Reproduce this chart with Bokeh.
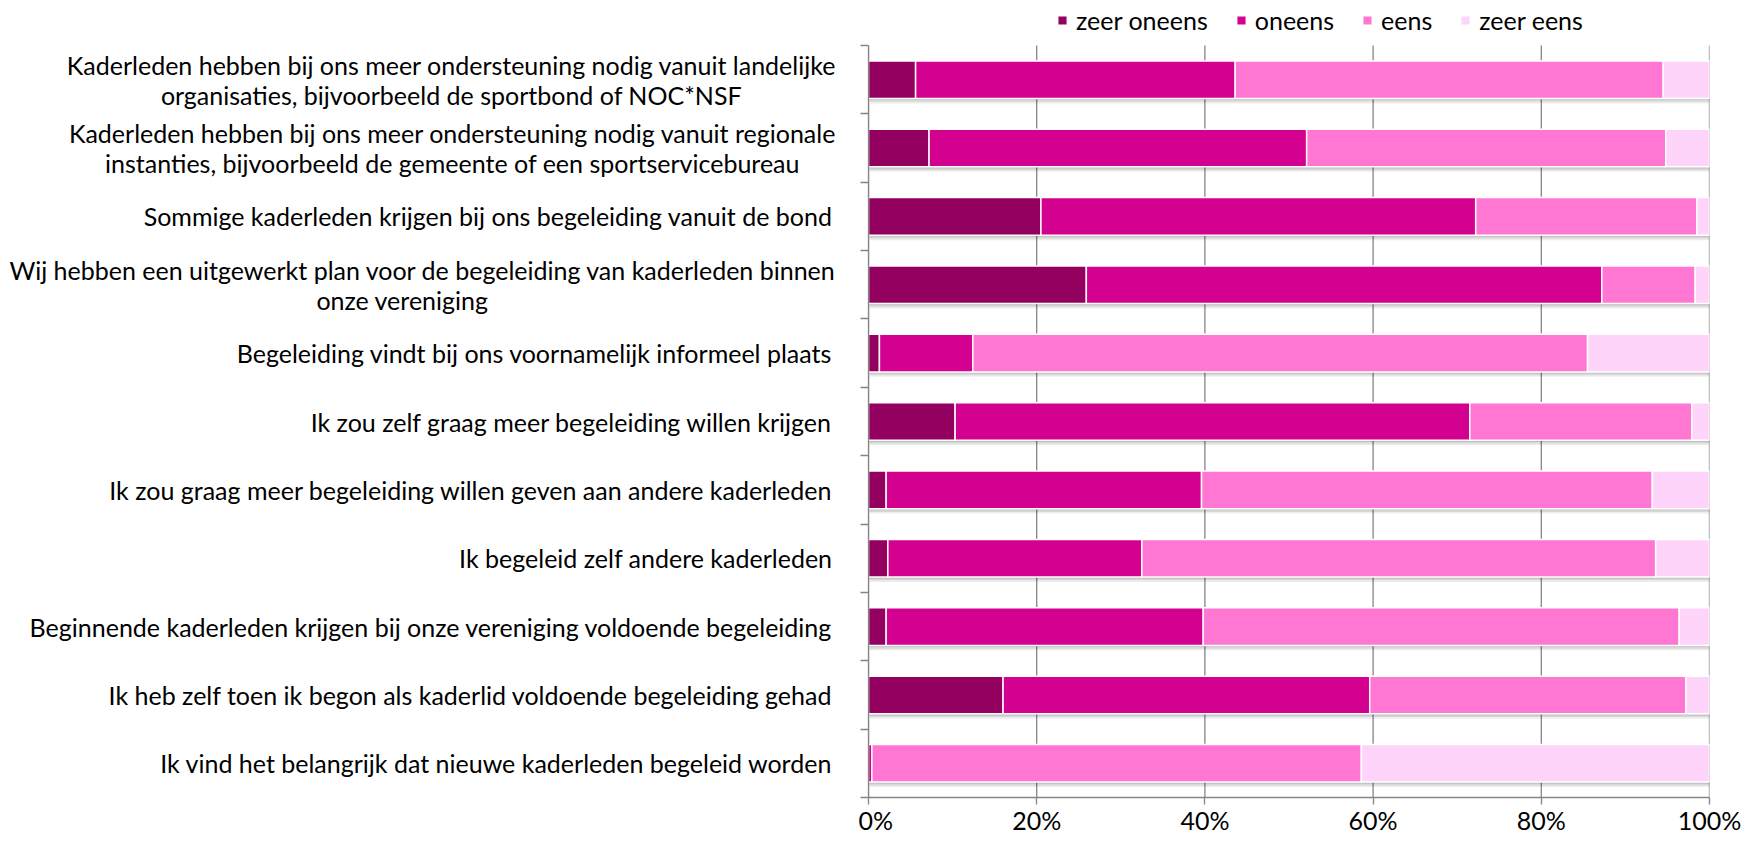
import numpy as np
from bokeh.plotting import figure
from bokeh.layouts import row
from bokeh.models import Range1d, FixedTicker, Legend, LegendItem, ColumnDataSource
from bokeh.core.properties import value
from bokeh.embed import file_html
from bokeh.resources import INLINE

# ---------------- data (top to bottom) ----------------
statements = [
    "Kaderleden hebben bij ons meer ondersteuning nodig vanuit landelijke\norganisaties, bijvoorbeeld de sportbond of NOC*NSF",
    "Kaderleden hebben bij ons meer ondersteuning nodig vanuit regionale\ninstanties, bijvoorbeeld de gemeente of een sportservicebureau",
    "Sommige kaderleden krijgen bij ons begeleiding vanuit de bond",
    "Wij hebben een uitgewerkt plan voor de begeleiding van kaderleden binnen\nonze vereniging",
    "Begeleiding vindt bij ons voornamelijk informeel plaats",
    "Ik zou zelf graag meer begeleiding willen krijgen",
    "Ik zou graag meer begeleiding willen geven aan andere kaderleden",
    "Ik begeleid zelf andere kaderleden",
    "Beginnende kaderleden krijgen bij onze vereniging voldoende begeleiding",
    "Ik heb zelf toen ik begon als kaderlid voldoende begeleiding gehad",
    "Ik vind het belangrijk dat nieuwe kaderleden begeleid worden",
]
zeer_oneens = [5.6, 7.2, 20.5, 25.9, 1.3, 10.3, 2.1, 2.3, 2.1, 16.0, 0.0]
oneens      = [38.0, 44.9, 51.7, 61.3, 11.1, 61.2, 37.5, 30.2, 37.7, 43.6, 0.4]
eens        = [50.9, 42.7, 26.3, 11.1, 73.1, 26.4, 53.6, 61.1, 56.6, 37.6, 58.2]
zeer_eens   = [5.5, 5.2, 1.5, 1.7, 14.5, 2.1, 6.8, 6.4, 3.6, 2.8, 41.4]
series_names = ["zeer oneens", "oneens", "eens", "zeer eens"]
series_colors = ["#94005F", "#D40090", "#FF77D3", "#FFD4FB"]
x_ticks = [0, 20, 40, 60, 80, 100]
x_tick_labels = ["0%", "20%", "40%", "60%", "80%", "100%"]

FONT = "Lato"
FS = "25px"
H = 844
BOTTOM = 47
LABEL_W = 858
TOP_GAP = 45  # space above the bars area, kept inside the frame for the legend
GRID = "#858585"

n = len(statements)
ys = np.array([n - 1 - i + 0.5 for i in range(n)])
BAR_H = 0.55
frame_h = H - BOTTOM
y_top = n * frame_h / (frame_h - TOP_GAP)

# ---------------- chart ----------------
p = figure(width=1742 - LABEL_W, height=H, output_backend="svg", toolbar_location=None,
           x_range=Range1d(0, 100), y_range=Range1d(0, y_top),
           min_border_left=10, min_border_right=33, min_border_top=0, min_border_bottom=BOTTOM)
p.outline_line_color = None
p.grid.grid_line_color = None

# vertical gridlines limited to the bars area
p.segment(x0=x_ticks, y0=[0] * len(x_ticks), x1=x_ticks, y1=[n] * len(x_ticks),
          line_color=GRID, line_width=1.3)

# shadows
for k, a in [(3, 0.07), (2, 0.09), (1, 0.11)]:
    p.hbar(y=ys - 0.024 * k, height=BAR_H, left=0.05 * k, right=100 + 0.12 * k,
           fill_color="black", fill_alpha=a, line_color=None)

data = [np.array(zeer_oneens), np.array(oneens), np.array(eens), np.array(zeer_eens)]
left = np.zeros(n)
items = []
for name, vals, col in zip(series_names, data, series_colors):
    r = p.hbar(y=ys, height=BAR_H, left=left, right=left + vals,
               fill_color=col, line_color="white", line_width=1.5)
    items.append(LegendItem(label=name, renderers=[r]))
    left = left + vals

p.xaxis.ticker = FixedTicker(ticks=x_ticks)
p.xaxis.major_label_overrides = {t: l for t, l in zip(x_ticks, x_tick_labels)}
p.xaxis.major_label_text_font = FONT
p.xaxis.major_label_text_font_size = FS
p.xaxis.major_label_text_color = "black"
p.xaxis.major_label_standoff = 0
p.xaxis.major_tick_out = 7
p.xaxis.major_tick_in = 0
p.xaxis.minor_tick_line_color = None
p.xaxis.axis_line_color = GRID
p.xaxis.major_tick_line_color = GRID
p.xaxis.axis_line_width = 1.3
p.xaxis.major_tick_line_width = 1.3

p.yaxis.ticker = FixedTicker(ticks=list(range(n + 1)))
p.yaxis.bounds = (0, n)
p.yaxis.major_label_overrides = {i: "" for i in range(n + 1)}
p.yaxis.major_label_standoff = 0
p.yaxis.major_tick_out = 8
p.yaxis.major_tick_in = 0
p.yaxis.minor_tick_line_color = None
p.yaxis.axis_line_color = GRID
p.yaxis.major_tick_line_color = GRID
p.yaxis.axis_line_width = 1.3
p.yaxis.major_tick_line_width = 1.3

legend = Legend(items=items, orientation="horizontal", location=(188, frame_h - 35),
                border_line_color=None, background_fill_alpha=0, padding=0, margin=0,
                glyph_width=12, glyph_height=12, label_standoff=8, spacing=27,
                label_text_font=FONT, label_text_font_size=FS, label_text_color="black")
p.add_layout(legend, "center")

# ---------------- category labels (separate panel) ----------------
RIGHT = 832
LINE_OFF = 15
second_line_center = {0: 451, 1: 452, 3: 402}
lx, ly, lt, loff, lalign = [], [], [], [], []
for i, s in enumerate(statements):
    lines = s.split("\n")
    if len(lines) == 1:
        lx.append(RIGHT); ly.append(ys[i]); lt.append(lines[0]); loff.append(0); lalign.append("right")
    else:
        lx.append(RIGHT + 4); ly.append(ys[i]); lt.append(lines[0]); loff.append(-LINE_OFF); lalign.append("right")
        lx.append(second_line_center[i]); ly.append(ys[i]); lt.append(lines[1]); loff.append(LINE_OFF); lalign.append("center")
src = ColumnDataSource(dict(x=lx, y=ly, text=lt, yoff=loff, align=lalign))

q = figure(width=LABEL_W, height=H, output_backend="svg", toolbar_location=None,
           x_range=Range1d(0, LABEL_W), y_range=Range1d(0, y_top),
           x_axis_location=None, y_axis_location=None,
           min_border_left=0, min_border_right=0, min_border_top=0, min_border_bottom=BOTTOM)
q.outline_line_color = None
q.grid.grid_line_color = None
q.text(x="x", y="y", text="text", y_offset="yoff", text_align="align", text_baseline="middle",
       text_font=value(FONT), text_font_size=FS, text_color="black", source=src)

layout = row(q, p, spacing=0)
open("out.html", "w").write(file_html(layout, INLINE))
